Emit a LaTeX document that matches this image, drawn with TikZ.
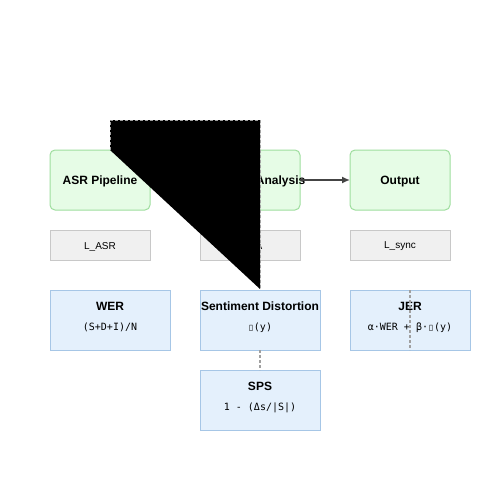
\documentclass[tikz,border=0pt]{standalone}
\usepackage{fontspec}
\setmainfont{Liberation Sans}
\setmonofont{DejaVu Sans Mono}
\newfontfamily\tofufont{DejaVu Sans}
\usetikzlibrary{arrows.meta}
\definecolor{gfill}{HTML}{E6FCE6}
\definecolor{gline}{HTML}{9EDE9E}
\definecolor{kfill}{HTML}{F0F0F0}
\definecolor{kline}{HTML}{C8C8C8}
\definecolor{bfill}{HTML}{E4F0FC}
\definecolor{bline}{HTML}{A6C6E6}
\definecolor{arrowc}{HTML}{444444}
\definecolor{dashc}{HTML}{A0A0A0}
\newcommand{\tofu}{\makebox[0.6em]{\tofufont\fontsize{8}{10}\selectfont ▯}}
\begin{document}
\begin{tikzpicture}[x=1pt,y=-1pt,
  gbox/.style={draw=gline,fill=gfill,line width=1pt,rounded corners=5pt,minimum width=100pt,minimum height=60pt,inner sep=0pt,outer sep=0pt},
  kbox/.style={draw=kline,fill=kfill,line width=1pt,minimum width=100pt,minimum height=30pt,inner sep=0pt,outer sep=0pt},
  bbox/.style={draw=bline,fill=bfill,line width=1pt,minimum width=120pt,minimum height=60pt,inner sep=0pt,outer sep=0pt},
  ttl/.style={inner sep=0pt,font=\bfseries\fontsize{12}{14}\selectfont},
  ktx/.style={inner sep=0pt,font=\fontsize{10}{12}\selectfont},
  frm/.style={inner sep=0pt,font=\ttfamily\fontsize{10}{12}\selectfont},
  dashln/.style={draw=dashc,line width=1.2pt,dash pattern=on 3pt off 2pt},
  flow/.style={draw=arrowc,line width=1.5pt,-{Latex[length=8pt,width=7pt]}}
]
\useasboundingbox (0,0) rectangle (500,500);
\fill[white] (0,0) rectangle (500,500);

\node[gbox] (asr) at (100,180) {};
\node[ttl] (asrt) at (100,181.5) {ASR Pipeline};
\node[gbox] (sa) at (250,180) {};
\node[ttl] (sat) at (250,181.5) {Sentiment Analysis};
\node[gbox] (out) at (400,180) {};
\node[ttl] (outt) at (400,181.5) {Output};

\node[kbox] (lasr) at (100,245) {};
\node[ktx] (lasrt) at (100,246.5) {L\_ASR};
\node[kbox] (lsa) at (250,245) {};
\node[ktx] (lsat) at (250,246.5) {L\_SA};
\node[kbox] (lsync) at (400,245) {};
\node[ktx] (lsynct) at (400,246.5) {L\_sync};

\node[bbox] (wer) at (110,320) {};
\node[ttl] (wert) at (110,306) {WER};
\node[frm] (werf) at (110,327.5) {(S+D+I)/N};

\node[bbox] (sd) at (260,320) {};
\node[ttl] (sdt) at (260,306) {Sentiment Distortion};
\node[frm] (sdf) at (260,327.5) {\tofu(y)};

\node[bbox] (jer) at (410,320) {};
\node[ttl] (jert) at (410,306) {JER};
\node[frm] (jerf) at (410,327.5) {α·WER + β·\tofu(y)};

\node[bbox] (sps) at (260,400) {};
\node[ttl] (spst) at (260,386) {SPS};
\node[frm] (spsf) at (260,407.5) {1 - (Δs/|S|)};

\draw[flow] (sa.east) -- (out.west);

\coordinate (p1) at (110,150);
\coordinate (p2) at (110,120);
\coordinate (p3) at (260,120);
\coordinate (p4) at (260,289);
\fill[black] (p1) -- (p2) -- (p3) -- (p4) -- cycle;
\draw[dashln,line width=1pt] (p1) -- (p2) -- (p3) -- (p4);

\draw[dashln] (sd.south) -- (sps.north);
\draw[dashln] (jer.north) -- (jer.south);
\end{tikzpicture}
\end{document}
